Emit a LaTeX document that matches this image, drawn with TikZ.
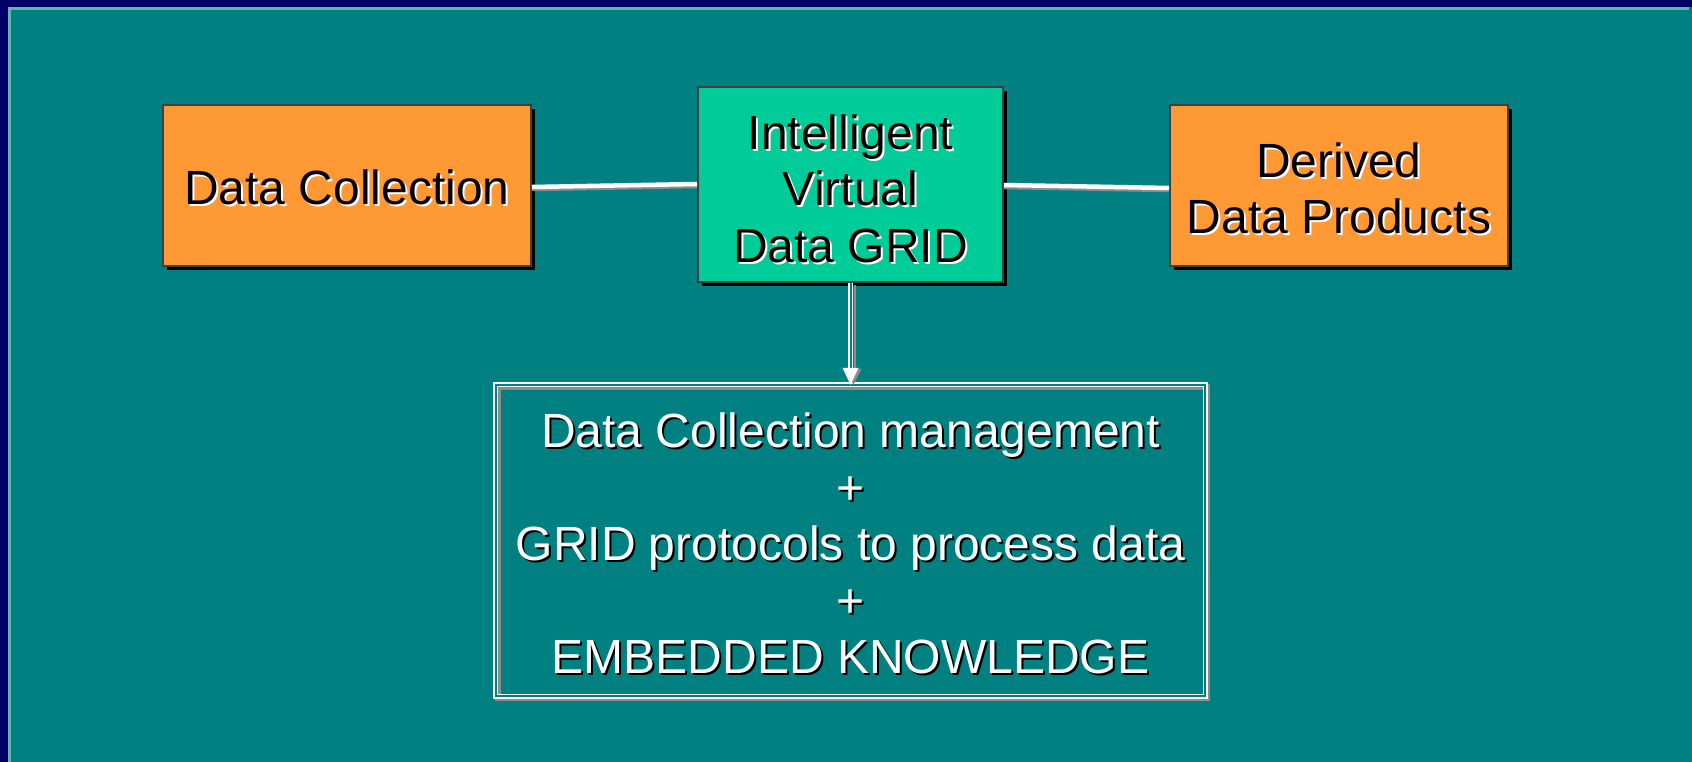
\documentclass[tikz,border=0pt]{standalone}
\usepackage{fontspec}
\setmainfont{Liberation Sans}
\usetikzlibrary{shadows,calc}
\definecolor{navy}{RGB}{0,0,102}
\definecolor{lteal}{RGB}{102,179,179}
\definecolor{bgteal}{RGB}{0,128,128}
\definecolor{orng}{RGB}{255,153,51}
\definecolor{mint}{RGB}{0,204,153}
\definecolor{shgray}{RGB}{140,140,140}
\begin{document}
\begin{tikzpicture}[x=1pt,y=-1pt,
  box/.style={rectangle, draw=black!75, line width=2pt, inner sep=0pt,
    drop shadow={shadow xshift=4pt, shadow yshift=-4pt, fill=black, opacity=1}},
  lbl/.style={font=\fontsize{48}{56.5}\selectfont, align=center, inner sep=0pt},
  conn/.style={white, line width=4.5pt},
  connsh/.style={shgray, line width=4.5pt},
]
\useasboundingbox (0,0) rectangle (1692,762);
% frame
\fill[navy] (0,0) rectangle (1692,762);
\fill[lteal] (8,7) rectangle (1689,762);
\fill[bgteal] (11,10) rectangle (1692,762);
\fill[bgteal] (1689,7) rectangle (1692,10);

% boxes
\node[box, fill=orng, minimum width=368pt, minimum height=161pt] (dc) at (347,185.5) {};
\node[box, fill=mint, minimum width=305pt, minimum height=195pt] (grid) at (850.5,184.5) {};
\node[box, fill=orng, minimum width=338pt, minimum height=161pt] (dp) at (1339,185.5) {};
\node[rectangle, minimum width=709pt, minimum height=311pt, inner sep=0pt] (b3) at (850.5,540.5) {};

% box 3 border: gray shadow then white double line
\draw[shgray, line width=5.5pt] ($(b3.north west)+(2,2)$) rectangle ($(b3.south east)+(2,2)$);
\draw[white, line width=1.6pt, double=bgteal, double distance=2pt] (b3.north west) rectangle (b3.south east);

% connectors
\draw[connsh] ($(dc.east)+(0,3.5)$) -- ($(grid.west)+(0,1.5)$);
\draw[conn] ($(dc.east)+(0,1.5)$) -- ($(grid.west)+(0,-0.5)$);
\draw[connsh] ($(grid.east)+(0,2.5)$) -- ($(dp.west)+(0,4.5)$);
\draw[conn] ($(grid.east)+(0,0.5)$) -- ($(dp.west)+(0,2.5)$);

% arrow
\draw[shgray, line width=1.5pt] ($(grid.south)+(4.5,2)$) -- ($(b3.north)+(4.5,-14)$);
\draw[white, line width=1.5pt, double=bgteal, double distance=2pt] (grid.south) -- ($(b3.north)+(0,-14)$);
\fill[shgray] ($(b3.north)+(-5,-16)$) -- ($(b3.north)+(3,0)$) -- ($(b3.north)+(11,-16)$) -- cycle;
\fill[white] ($(b3.north)+(-8,-17)$) -- (b3.north) -- ($(b3.north)+(8,-17)$) -- cycle;

% texts
\node[lbl, white] at ($(dc)+(2,4)$) {Data Collection};
\node[lbl, black] (dct) at ($(dc)+(0,2)$) {Data Collection};
\node[lbl, white] at ($(grid)+(2,6)$) {Intelligent\\Virtual\\Data GRID};
\node[lbl, black] (gridt) at ($(grid)+(0,4)$) {Intelligent\\Virtual\\Data GRID};
\node[lbl, white] at ($(dp)+(2,5)$) {Derived\\Data Products};
\node[lbl, black] (dpt) at ($(dp)+(0,3)$) {Derived\\Data Products};
\node[lbl, black] at ($(b3)+(2,5)$) {Data Collection management\\+\\GRID protocols to process data\\+\\EMBEDDED KNOWLEDGE};
\node[lbl, white] (b3t) at ($(b3)+(0,3)$) {Data Collection management\\+\\GRID protocols to process data\\+\\EMBEDDED KNOWLEDGE};
\end{tikzpicture}
\end{document}
